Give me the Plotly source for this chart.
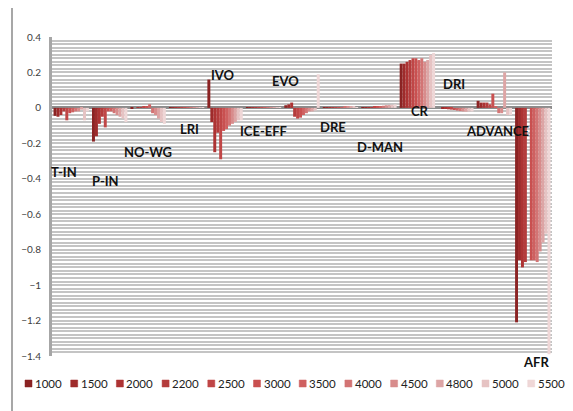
import plotly.graph_objects as go

categories = ["T-IN", "P-IN", "NO-WG", "LRI", "IVO", "ICE-EFF", "EVO",
              "DRE", "D-MAN", "CR", "DRI", "ADVANCE", "AFR"]
series_names = ["1000", "1500", "2000", "2200", "2500", "3000",
                "3500", "4000", "4500", "4800", "5000", "5500"]

# one list per category, values for series 1000 ... 5500
t_in = [-0.045, -0.05, -0.04, -0.02, -0.07, -0.03, -0.025, -0.02, -0.02, -0.01, -0.07, -0.02]
p_in = [-0.19, -0.16, -0.09, -0.05, -0.11, -0.02, -0.02, -0.03, -0.04, -0.05, -0.06, -0.08]
no_wg = [-0.003, 0.0, 0.004, 0.005, 0.006, 0.01, 0.02, -0.03, -0.04, -0.06, -0.08, -0.09]
lri = [0.002, 0.002, 0.001, 0.002, 0.001, 0.001, 0.002, 0.001, 0.001, 0.002, 0.001, 0.001]
ivo = [0.16, -0.08, -0.25, -0.14, -0.29, -0.13, -0.12, -0.10, -0.09, -0.08, -0.07, -0.07]
ice_eff = [0.002, 0.003, 0.004, 0.003, 0.002, 0.002, 0.001, 0.001, 0.001, 0.001, 0.001, 0.002]
evo = [0.015, 0.02, 0.03, -0.05, -0.06, -0.055, -0.04, -0.03, -0.02, -0.02, -0.015, 0.19]
dre = [0.003, 0.002, 0.002, 0.002, 0.003, 0.005, 0.005, 0.006, 0.007, 0.008, 0.01, 0.005]
d_man = [0.003, 0.004, 0.005, 0.005, 0.006, 0.008, 0.01, 0.012, 0.015, 0.017, 0.018, 0.02]
cr = [0.25, 0.25, 0.26, 0.27, 0.28, 0.28, 0.27, 0.28, 0.26, 0.27, 0.30, 0.31]
dri = [0.0, -0.002, -0.005, -0.008, -0.01, -0.012, -0.015, -0.018, -0.02, -0.022, -0.02, -0.02]
advance = [0.04, 0.03, 0.03, 0.03, 0.02, 0.08, 0.01, -0.03, -0.03, 0.20, -0.04, -0.04]
afr = [-1.21, -0.86, -0.90, -0.87, 0.0, -0.86, -0.86, -0.87, -0.81, -0.76, -0.71, -1.39]

by_category = [t_in, p_in, no_wg, lri, ivo, ice_eff, evo, dre, d_man, cr, dri, advance, afr]

colors = ["#8b2323", "#9e2b2b", "#ad3333", "#b43c3c", "#c04646", "#c95050",
          "#cf6060", "#d37474", "#d88c8c", "#dda5a5", "#e6c3c3", "#efd7d7"]

# where the category names sit (paper x, value-axis y)
label_x = [0.024, 0.106, 0.192, 0.274, 0.342, 0.422, 0.466, 0.562, 0.656, 0.736, 0.804, 0.890, 0.968]
label_y = [-0.362, -0.413, -0.249, -0.119, 0.186, -0.130, 0.152, -0.108, -0.221, -0.018, 0.135, -0.130, -1.434]

Y_MIN, Y_MAX = -1.4, 0.4

# the page body adds an 8px margin, so the figure is 8px smaller each way
OFF = 8
W, H = 573 - OFF, 411 - OFF
L, R, T, B = 52 - OFF, 21, 37 - OFF, 55
pw, ph = W - L - R, H - T - B


def px(x):
    # reference pixel -> paper x
    return (x - OFF - L) / pw


def py(y):
    # reference pixel -> paper y
    return (H - B - (y - OFF)) / ph


fig = go.Figure()
for i, name in enumerate(series_names):
    fig.add_trace(go.Bar(
        x=categories, y=[vals[i] for vals in by_category], name=name,
        marker=dict(color=colors[i], line=dict(width=0)), showlegend=False,
    ))

# category names (paper refs so the one below the axis floor still shows)
for cat, lx, ly in zip(categories, label_x, label_y):
    fig.add_annotation(text="<b>%s</b>" % cat, x=lx, y=(ly - Y_MIN) / (Y_MAX - Y_MIN),
                       xref="paper", yref="paper",
                       xanchor="center", yanchor="middle", showarrow=False,
                       font=dict(size=13, color="#111111"))

# legend drawn by hand: small square + label, one per series
for i, name in enumerate(series_names):
    x0 = 25 + 45.7 * i
    fig.add_shape(type="rect", xref="paper", yref="paper",
                  x0=px(x0), x1=px(x0 + 7), y0=py(387), y1=py(380),
                  fillcolor=colors[i], line=dict(color=colors[i], width=0.5))
    fig.add_annotation(text=name, x=px(x0 + 8), y=py(383.5), xref="paper", yref="paper",
                       xanchor="left", yanchor="middle", showarrow=False,
                       font=dict(size=11.5, color="#222222"))

# outer chart frame
for fx in (12, 567):
    fig.add_shape(type="line", xref="paper", yref="paper", x0=px(fx), x1=px(fx),
                  y0=py(420), y1=py(-5), line=dict(color="#8a8a8a", width=1.5))

fig.update_layout(
    width=W, height=H,
    margin=dict(l=L, r=R, t=T, b=B, autoexpand=False),
    paper_bgcolor="white", plot_bgcolor="white",
    barmode="group", bargap=0.08, bargroupgap=0,
    font=dict(family="Lato, Carlito, Arial", color="#404040"),
    showlegend=False,
    xaxis=dict(showticklabels=False, showgrid=False, zeroline=False, ticks=""),
    yaxis=dict(range=[Y_MIN, Y_MAX], dtick=0.2, showgrid=True,
               gridcolor="#c4c4c4", gridwidth=2,
               minor=dict(dtick=0.02, showgrid=True, gridcolor="#c4c4c4", gridwidth=2),
               zeroline=True, zerolinecolor="#8c8c8c", zerolinewidth=3,
               showline=True, linecolor="#a6a6a6", linewidth=3,
               ticks="", ticklabelstandoff=6,
               tickfont=dict(size=10, color="#404040")),
)

fig.write_html("out.html")
